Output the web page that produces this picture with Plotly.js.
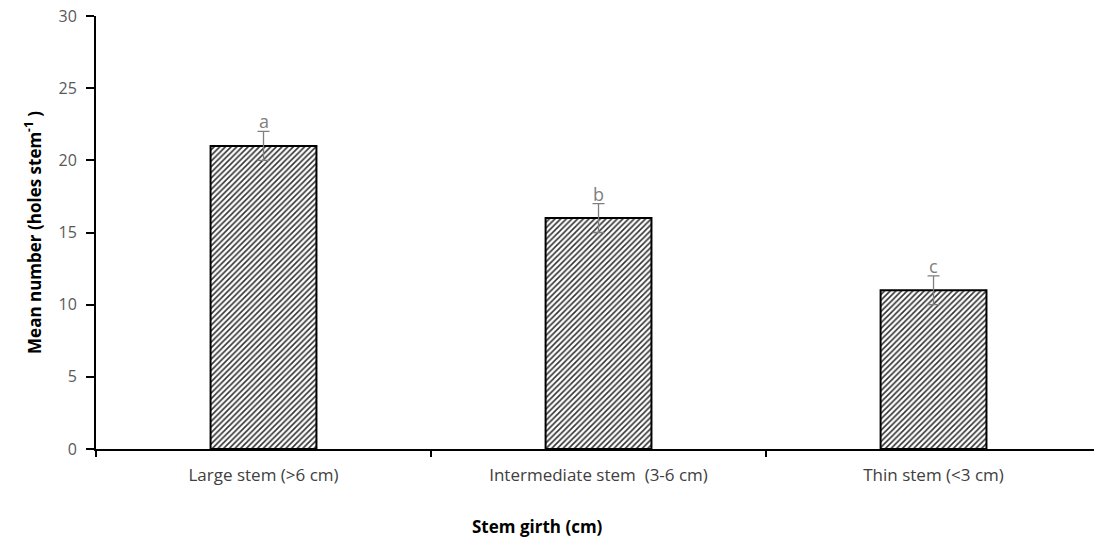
<!DOCTYPE html>
<html>
<head>
<meta charset="utf-8">
<script src="https://cdn.plot.ly/plotly-3.0.1.min.js"></script>
<style>html,body{margin:0;padding:0;background:#fff;}#chart{width:1094px;height:544px;}</style>
</head>
<body>
<div id="chart"></div>
<script>
const categories = ["Large stem (>6 cm)", "Intermediate stem  (3-6 cm)", "Thin stem (<3 cm)"];
const meanHoles = [21, 16, 11];
const errorValues = [1, 1, 1];
const letters = ["a", "b", "c"];

const FONT = "Open Sans, Noto Sans, sans-serif";

const trace = {
  type: "bar",
  x: categories,
  y: meanHoles,
  width: 0.316,
  marker: {
    color: "#ffffff",
    line: {color: "#000000", width: 2},
    pattern: {shape: "/", fgcolor: "#333333", bgcolor: "#ffffff", size: 4, solidity: 0.4}
  },
  error_y: {type: "data", array: errorValues, visible: true, color: "#7f7f7f", thickness: 1.3, width: 6},
  hoverinfo: "none"
};

const annotations = categories.map((c, i) => ({
  x: c, y: meanHoles[i] + errorValues[i], xref: "x", yref: "y",
  text: letters[i], showarrow: false, yanchor: "bottom", yshift: -4,
  font: {family: FONT, size: 18, color: "#7f7f7f"}
}));
annotations.push({
  xref: "paper", yref: "paper", x: 0.442, y: -0.18, yanchor: "middle",
  text: "<b>Stem girth (cm)</b>", showarrow: false,
  font: {family: FONT, size: 17, color: "#000"}
});

const layout = {
  width: 1094, height: 544,
  margin: {l: 96, r: 0, t: 16, b: 95},
  paper_bgcolor: "#fff", plot_bgcolor: "#fff",
  showlegend: false,
  xaxis: {
    type: "category",
    range: [-0.5, 2.479],
    showline: true, linecolor: "#000", linewidth: 2,
    ticks: "outside", tickson: "boundaries", ticklen: 6, tickcolor: "#000", tickwidth: 2,
    ticklabelstandoff: 10,
    tickfont: {family: FONT, size: 17, color: "#404040"},
    showgrid: false, zeroline: false
  },
  yaxis: {
    range: [0, 30], tickvals: [0, 5, 10, 15, 20, 25, 30],
    showline: true, linecolor: "#000", linewidth: 2,
    ticks: "outside", ticklen: 8, tickcolor: "#000", tickwidth: 2,
    ticklabelstandoff: 6,
    tickfont: {family: FONT, size: 16, color: "#595959"},
    showgrid: false, zeroline: false,
    title: {text: "<b>Mean number (holes stem<sup>-1</sup> )</b>", font: {family: FONT, size: 17, color: "#000"}, standoff: 13}
  },
  annotations: annotations
};

Plotly.newPlot("chart", [trace], layout, {displayModeBar: false, staticPlot: true});
</script>
</body>
</html>
